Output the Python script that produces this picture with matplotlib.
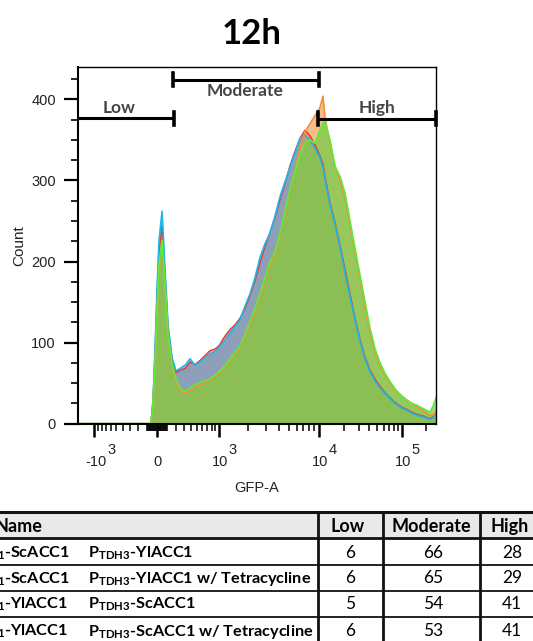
import numpy as np
import matplotlib.pyplot as plt
from matplotlib.ticker import MultipleLocator, FixedLocator
from matplotlib.patches import Rectangle

plt.rcParams['font.family'] = ['Liberation Sans', 'DejaVu Sans']
plt.rcParams['mathtext.fontset'] = 'custom'
plt.rcParams['mathtext.rm'] = 'Lato'
plt.rcParams['mathtext.bf'] = 'Lato:bold'

# ---- histogram data (GFP-A bin positions, counts per sample) ----
gfp = [-1580, -61, -40, -20, 0, 20, 52, 83, 115, 158, 204, 252, 317, 389, 468, 556,
       654, 763, 887, 1000, 1155, 1300, 1463, 1643, 1846, 2072, 2324, 2607, 2924,
       3278, 3674, 4118, 4614, 5172, 5795, 6494, 7275, 8151, 9128, 10280, 11170,
       11806, 13565, 15585, 17905, 20570, 23630, 27150, 31190, 35830, 41150, 47280,
       54320, 62400, 71680, 82360, 100000, 112000, 132800, 157400, 186600, 221100,
       247700, 262144]

red = [0, 0, 28, 85, 155, 210, 245, 182, 118, 80, 63, 66, 68, 76, 73, 78,
       84, 90, 92, 96, 108, 116, 122, 130, 142, 158, 176, 198, 218,
       236, 254, 276, 296, 318, 336, 352, 362, 355, 344, 330, 320,
       305, 272, 248, 220, 190, 160, 130, 104, 82, 66, 55,
       46, 38, 32, 26, 20, 18, 14, 11, 9, 6, 9, 12]

blue = [0, 0, 30, 90, 165, 225, 262, 190, 122, 82, 65, 68, 72, 80, 72, 76,
        82, 86, 89, 94, 103, 112, 120, 128, 145, 160, 180, 205, 222,
        235, 256, 280, 298, 316, 334, 352, 356, 350, 340, 328, 316,
        302, 270, 246, 218, 186, 157, 128, 102, 80, 64, 53,
        44, 37, 31, 25, 19, 17, 13, 10, 8, 5, 8, 13]

orange = [0, 0, 24, 68, 135, 190, 222, 168, 106, 70, 52, 41, 38, 41, 45, 48,
          50, 53, 58, 62, 70, 78, 86, 94, 106, 122, 138, 156, 176,
          196, 208, 232, 258, 288, 314, 340, 360, 370, 380, 390, 404,
          378, 345, 318, 300, 278, 245, 212, 178, 143, 112, 88,
          72, 60, 50, 42, 34, 30, 25, 20, 15, 10, 12, 15]

green = [0, 0, 25, 70, 140, 195, 226, 172, 110, 74, 55, 44, 40, 44, 48, 51,
         53, 55, 60, 64, 72, 80, 88, 96, 110, 126, 142, 160, 180,
         200, 212, 235, 262, 290, 312, 332, 346, 350, 346, 362, 371,
         372, 350, 317, 305, 284, 250, 216, 183, 150, 118, 92,
         75, 62, 52, 43, 33, 29, 25, 22, 18, 14, 24, 32]

# gates
gate_names = ['Low', 'Moderate', 'High']
gate_lo = [-1580, 170, 9775]
gate_hi = [181, 10000, 262144]
gate_y = [377, 424, 376]
gate_label_x = [-458, 1846, 49990]
gate_label_y = [383, 404, 383]

# table
col_heads = ['Low', 'Moderate', 'High']
name_a = [r'$\mathbf{P_{TEF1}}$-ScACC1', r'$\mathbf{P_{TEF1}}$-ScACC1',
          r'$\mathbf{P_{TEF1}}$-YlACC1', r'$\mathbf{P_{TEF1}}$-YlACC1']
name_b = [r'$\mathbf{P_{TDH3}}$-YlACC1', r'$\mathbf{P_{TDH3}}$-YlACC1 w/ Tetracycline',
          r'$\mathbf{P_{TDH3}}$-ScACC1', r'$\mathbf{P_{TDH3}}$-ScACC1 w/ Tetracycline']
pct_low = [6, 6, 5, 6]
pct_mod = [66, 65, 54, 53]
pct_high = [28, 29, 41, 41]

# ---- biexponential-like display scale ----
W = 370.0
anchor_gfp = np.array([-1580, -1000, 0, 1000, 1e4, 1e5, 262144])
anchor_pos = np.array([0, 16, 79, 141, 241, 324, 358]) / 358
U = np.arcsinh(anchor_gfp / W)
s0 = (anchor_pos[1] - anchor_pos[0]) / (U[1] - U[0])
s1 = (anchor_pos[-1] - anchor_pos[-2]) / (U[-1] - U[-2])
U2 = np.r_[U[0] - 100, U, U[-1] + 100]
P2 = np.r_[anchor_pos[0] - 100 * s0, anchor_pos, anchor_pos[-1] + 100 * s1]


def fwd(x):
    return np.interp(np.arcsinh(np.asarray(x, float) / W), U2, P2)


def inv(p):
    return W * np.sinh(np.interp(np.asarray(p, float), P2, U2))


fig = plt.figure(figsize=(5.33, 6.41), dpi=100)
ax = fig.add_axes([78 / 533, 1 - 423.7 / 641, 358 / 533, (423.7 - 67) / 641])
ax.set_xscale('function', functions=(fwd, inv))

series = [
    (red, '#e8453c', 0.5, '#e53b2c', 1.1),
    (blue, '#2a9fd8', 0.5, '#1fb5ea', 1.2),
    (orange, '#f29a45', 0.65, '#f0913a', 1.2),
    (green, '#6fcd4a', 0.7, '#62e83c', 1.3),
]
for vals, fc, a, lc, lw in series:
    ax.fill_between(gfp, 0, vals, color=fc, alpha=a, lw=0)
    ax.plot(gfp, vals, color=lc, lw=lw)

ax.set_xlim(-1580, 262144)
ax.set_ylim(0, 440)

# gates
for name, lo, hi, y, lx, ly in zip(gate_names, gate_lo, gate_hi, gate_y,
                                     gate_label_x, gate_label_y):
    ax.plot([lo, hi], [y, y], color='black', lw=2.2, clip_on=False, solid_capstyle='butt')
    for xe in (lo, hi):
        if xe > -1580:
            ax.plot([xe, xe], [y - 8, y + 8], color='black', lw=2.6, clip_on=False)
    ax.text(lx, ly, name, ha='center', va='baseline', fontsize=12.5,
            fontweight='bold', color='#454545', family=['Lato', 'DejaVu Sans'])

# axes styling
for side in ['top', 'right']:
    ax.spines[side].set_linewidth(1.0)
for side in ['left', 'bottom']:
    ax.spines[side].set_linewidth(1.5)

ax.set_yticks([0, 100, 200, 300, 400])
ax.yaxis.set_minor_locator(MultipleLocator(25))
ax.tick_params(axis='y', which='major', length=10, width=1.6, pad=6,
               labelsize=10.5, labelcolor='#222222')
ax.tick_params(axis='y', which='minor', length=5, width=1.2)

major_x = [-1000, 0, 1000, 10000, 100000]
minor_x = ([-k * 100 for k in range(1, 10)] + [-k * 10 for k in range(1, 10)] +
           [k * 10 for k in range(1, 10)] + [k * 100 for k in range(1, 10)] +
           [k * 1000 for k in range(2, 10)] + [k * 10000 for k in range(2, 10)] +
           [200000])
ax.xaxis.set_major_locator(FixedLocator(major_x))
ax.xaxis.set_minor_locator(FixedLocator(minor_x))
ax.tick_params(axis='x', which='major', length=9, width=1.8, labelbottom=False)
ax.tick_params(axis='x', which='minor', length=5, width=1.1)

tick_base = ['-10', '0', '10', '10', '10']
tick_sup = ['3', '', '3', '4', '5']
for v, b, s in zip(major_x, tick_base, tick_sup):
    dx = 2 if b.startswith('-') else 1
    ax.annotate(b, xy=(v, 0), xycoords=ax.get_xaxis_transform(), xytext=(dx, -38),
                textcoords='offset pixels', ha='center', va='center', fontsize=10.5,
                color='#222222')
    if s:
        ax.annotate(s, xy=(v, 0), xycoords=ax.get_xaxis_transform(),
                    xytext=(dx + 13 + (3 if b.startswith('-') else 0), -26),
                    textcoords='offset pixels', ha='center', va='center',
                    fontsize=10.5, color='#222222')

ax.set_xlabel('GFP-A', fontsize=10.5, va='center', color='#222222')
ax.xaxis.set_label_coords(0.5, -0.180)
ax.set_ylabel('Count', fontsize=11, va='center', color='#222222')
ax.yaxis.set_label_coords(-0.165, 0.5)

fig.text(252 / 533, 1 - 44 / 641, '12h', ha='center', va='baseline', fontsize=25,
         fontweight='bold', family=['Lato', 'DejaVu Sans'])

# ---- table ----
tax = fig.add_axes([0, 0, 1, 141 / 641])
tax.set_xlim(0, 533)
tax.set_ylim(641, 500)
tax.axis('off')

tfont = ['Lato', 'DejaVu Sans']
tax.add_patch(Rectangle((-5, 511.5), 545, 26.5, facecolor='#e9e9e9', edgecolor='none'))
tax.plot([-5, 540], [511.5, 511.5], color='#111111', lw=2.2, clip_on=False)
tax.plot([-5, 540], [538, 538], color='#111111', lw=2.0, clip_on=False)
for yl in [565, 590.5, 616.5]:
    tax.plot([-5, 540], [yl, yl], color='#222222', lw=1.4, clip_on=False)
for xl in [318, 383, 480]:
    tax.plot([xl, xl], [511.5, 645], color='#111111', lw=2.0, clip_on=False)

col_x = [348, 431, 510]
tax.text(42, 532.3, 'Name', ha='right', va='baseline', fontsize=13, fontweight='bold',
         family=tfont)
for cx, h in zip(col_x, col_heads):
    tax.text(cx, 532.3, h, ha='center', va='baseline', fontsize=13, fontweight='bold',
             family=tfont)

row_base = [557.5, 583.3, 609, 636]
for i, yb in enumerate(row_base):
    xa = 70 if i < 2 else 68
    tax.text(xa, yb, name_a[i], ha='right', va='baseline', fontsize=11.7,
             fontweight='bold', family=tfont)
    tax.text(88, yb, name_b[i], ha='left', va='baseline', fontsize=11.7,
             fontweight='bold', family=tfont)
    for cx, v in zip(col_x, [pct_low[i], pct_mod[i], pct_high[i]]):
        tax.text(cx + 2, yb, str(v), ha='center', va='baseline', fontsize=12.5,
                 family=tfont)

fig.savefig('out.png', dpi=100)
